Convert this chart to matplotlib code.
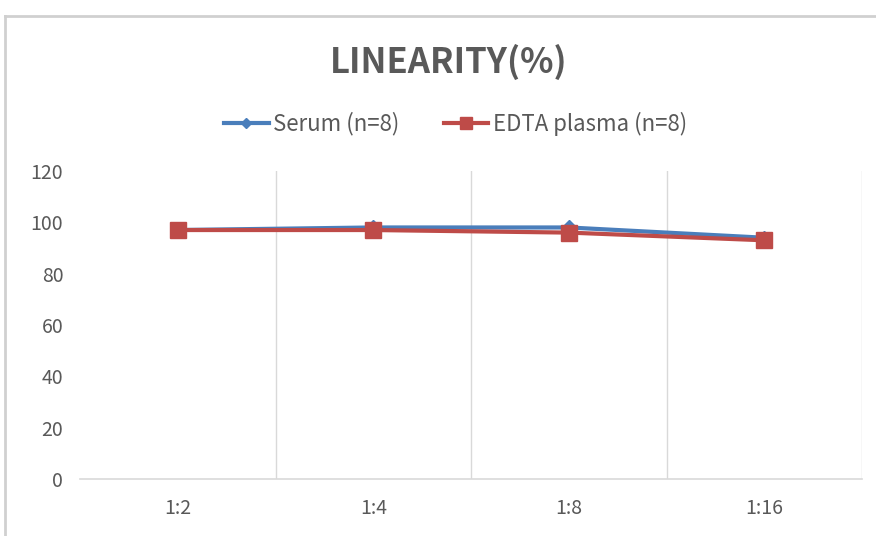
import matplotlib
matplotlib.use("Agg")
import matplotlib.pyplot as plt
from matplotlib.lines import Line2D

plt.rcParams["font.family"] = ["Noto Sans CJK SC", "DejaVu Sans"]

DILUTIONS = ["1:2", "1:4", "1:8", "1:16"]
SERUM = [97, 98, 98, 94]
EDTA = [97, 97, 96, 93]

GRAY_TXT = "#595959"
GRID = "#d9d9d9"

fig = plt.figure(figsize=(8.76, 5.36), dpi=100)
ax = fig.add_axes([80 / 876, 57 / 536, 782 / 876, 308 / 536])

x = range(len(DILUTIONS))
l1, = ax.plot(x, SERUM, color="#4a7ebb", linewidth=3, marker="D", markersize=7,
              label="Serum (n=8)", zorder=3)
l2, = ax.plot(x, EDTA, color="#be4b48", linewidth=3, marker="s", markersize=12,
              label="EDTA plasma (n=8)", zorder=4)

ax.set_xlim(-0.5, 3.5)
ax.set_ylim(0, 120)
ax.set_yticks(range(0, 121, 20))
ax.set_xticks(list(x))
ax.set_xticklabels(DILUTIONS)
for g in [0.5, 1.5, 2.5, 3.5]:
    ax.axvline(g, color=GRID, linewidth=1, zorder=0)

for s in ["top", "left", "right"]:
    ax.spines[s].set_visible(False)
ax.spines["bottom"].set_color(GRID)
ax.spines["bottom"].set_linewidth(1.2)
ax.tick_params(length=0, labelsize=14, colors=GRAY_TXT)
ax.tick_params(axis="x", pad=14)
ax.tick_params(axis="y", pad=12)

fig.text(0.512, 0.884, "LINEARITY(%)", ha="center", va="center",
         fontsize=25, fontweight="bold", color=GRAY_TXT)

fig.legend(handles=[l1, l2], loc="center", bbox_to_anchor=(0.52, 0.769),
           ncol=2, frameon=False, fontsize=16, labelcolor=GRAY_TXT,
           handlelength=2.0, columnspacing=2.0, handletextpad=0.2,
           markerscale=0.75)

# chart frame
fig.add_artist(Line2D([5 / 876, 1], [1 - 16 / 536] * 2, transform=fig.transFigure,
                      color="#d0d0d0", linewidth=2))
fig.add_artist(Line2D([5 / 876] * 2, [0, 1 - 16 / 536], transform=fig.transFigure,
                      color="#d0d0d0", linewidth=2))

fig.savefig("out.png", dpi=100)
